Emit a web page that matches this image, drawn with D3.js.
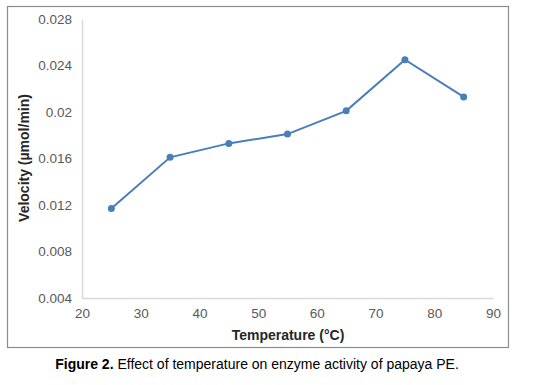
<!DOCTYPE html>
<html>
<head>
<meta charset="utf-8">
<script src="https://cdn.jsdelivr.net/npm/d3@7"></script>
<style>
  body { margin: 0; background: #fff; }
  svg { display: block; font-family: "Liberation Sans", Arial, sans-serif; }
</style>
</head>
<body>
<div id="chart"></div>
<script>
// data
const temperature = [25, 35, 45, 55, 65, 75, 85];
const velocity = [0.0117, 0.0161, 0.0173, 0.0181, 0.0201, 0.0245, 0.0213];
const xTicks = [20, 30, 40, 50, 60, 70, 80, 90];
const yTicks = [0.004, 0.008, 0.012, 0.016, 0.02, 0.024, 0.028];
const yLabels = ['0.004', '0.008', '0.012', '0.016', '0.02', '0.024', '0.028'];

const width = 536, height = 385;
const margin = { left: 82, right: 43, top: 19, bottom: 87 };

var svg = d3.select('#chart')
    .append('svg')
    .attr('width', width)
    .attr('height', height);

// outer frame
svg.append('rect')
    .attr('x', 7.5)
    .attr('y', 6.5)
    .attr('width', 501)
    .attr('height', 341)
    .attr('fill', 'none')
    .attr('stroke', '#8c8c8c')
    .attr('stroke-width', 1.2);

var x = d3.scaleLinear()
    .domain([20, 90])
    .range([margin.left, width - margin.right]);

var y = d3.scaleLinear()
    .domain([0.004, 0.028])
    .range([height - margin.bottom, margin.top]);

// x axis
var xAxis = svg.append('g')
    .attr('transform', 'translate(0,' + y(0.004) + ')')
    .call(d3.axisBottom(x).tickValues(xTicks).tickSize(0).tickPadding(10));
xAxis.select('.domain').attr('stroke', '#d9d9d9').attr('stroke-width', 1.5);
xAxis.selectAll('text')
    .attr('fill', '#595959')
    .style('font-size', '13.5px');

// y axis
var yAxis = svg.append('g')
    .attr('transform', 'translate(' + x(20) + ',0)')
    .call(d3.axisLeft(y).tickValues(yTicks).tickFormat((d, i) => yLabels[i]).tickSize(0).tickPadding(10));
yAxis.select('.domain').attr('stroke', '#d9d9d9').attr('stroke-width', 1.5);
yAxis.selectAll('text')
    .attr('fill', '#595959')
    .style('font-size', '13.5px');

// axis titles
svg.append('text')
    .attr('x', 288)
    .attr('y', 340)
    .attr('text-anchor', 'middle')
    .attr('font-weight', 'bold')
    .attr('font-size', 14)
    .attr('fill', '#262626')
    .text('Temperature (°C)');

svg.append('text')
    .attr('transform', 'translate(29,158) rotate(-90)')
    .attr('text-anchor', 'middle')
    .attr('font-weight', 'bold')
    .attr('font-size', 14)
    .attr('fill', '#262626')
    .text('Velocity (µmol/min)');

// line
var line = d3.line()
    .x((d, i) => x(temperature[i]))
    .y(d => y(d));

svg.append('path')
    .datum(velocity)
    .attr('d', line)
    .attr('fill', 'none')
    .attr('stroke', '#4a7ebb')
    .attr('stroke-width', 2);

svg.selectAll('.dot')
    .data(velocity)
    .enter()
    .append('circle')
    .attr('class', 'dot')
    .attr('cx', (d, i) => x(temperature[i]))
    .attr('cy', d => y(d))
    .attr('r', 3.5)
    .attr('fill', '#4a7ebb');

// caption
var caption = svg.append('text')
    .attr('x', 257)
    .attr('y', 369)
    .attr('text-anchor', 'middle')
    .attr('font-size', 14)
    .attr('fill', '#000');
caption.append('tspan').attr('font-weight', 'bold').text('Figure 2.');
caption.append('tspan').text(' Effect of temperature on enzyme activity of papaya PE.');
</script>
</body>
</html>
